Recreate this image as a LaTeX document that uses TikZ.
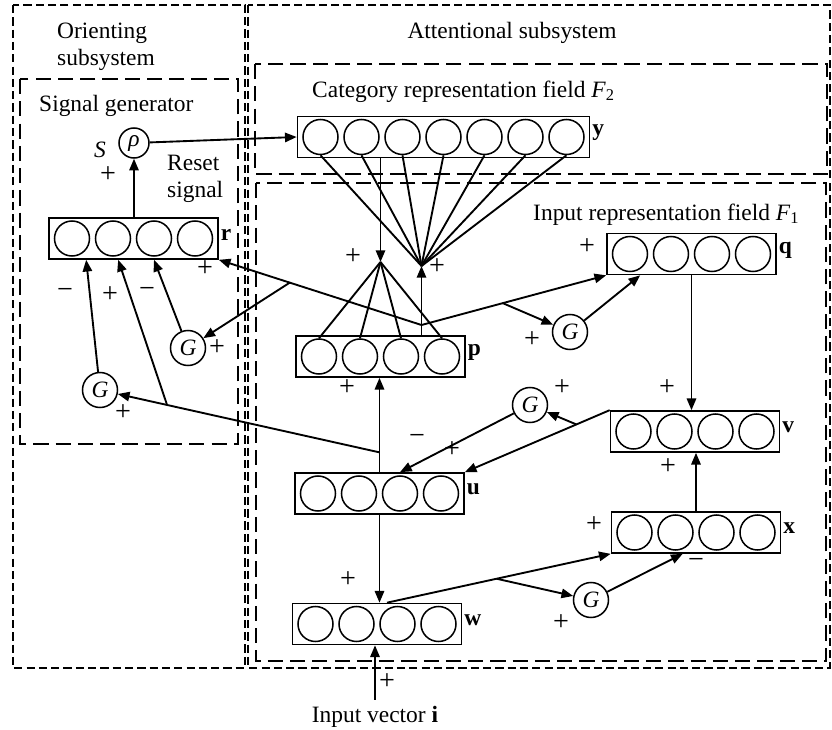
\documentclass[tikz,border=0pt]{standalone}
\usepackage{fontspec}
\setmainfont{Liberation Serif}
\usetikzlibrary{arrows.meta,calc}

\tikzset{
  wire/.style={line width=1.6pt},
  arr/.style={wire, -{Triangle[length=10pt,width=8pt]}},
  layerbox/.style={draw, line width=1.4pt, minimum height=1.23cm, inner sep=0pt},
  unit/.style={draw, circle, line width=1.3pt, minimum size=1.05cm, inner sep=0pt},
  gate/.style={draw, circle, line width=1.3pt, minimum size=1.05cm, inner sep=0pt, font=\itshape},
  veclabel/.style={anchor=west, font=\bfseries, inner sep=1.5pt},
  txt/.style={inner sep=0pt},
  sgn/.style={inner sep=0pt, font=\fontsize{24}{28}\selectfont},
  outerbox/.style={line width=1.3pt, dash pattern=on 7pt off 3.5pt},
  innerbox/.style={line width=1.6pt, dash pattern=on 13pt off 6pt},
}

% a field of units: name, number of units, centre x, centre y, label
\newcommand{\layer}[5]{%
  \node[layerbox, minimum width={(#2*41+5)*0.03cm}] (#1) at (#3,#4) {};
  \foreach \k in {1,...,#2}
    \node[unit] (#1-\k) at ({#3+(\k-(#2+1)/2)*41},#4) {};
  \node[veclabel] (#1-lab) at ($(#1.east)+(0,-4)$) {#5};
}

\begin{document}
\fontsize{20}{23}\selectfont
\begin{tikzpicture}[x=0.03cm, y=-0.03cm]
  \useasboundingbox (0,0) rectangle (832,730);
  % subsystems and fields
  \draw[outerbox] (13,5) rectangle (245,668);
  \draw[outerbox] (248,5) rectangle (830,668);
  \draw[innerbox] (20,79) rectangle (238,444);
  \draw[innerbox] (255,64) rectangle (827,174);
  \draw[innerbox] (256,183) rectangle (826,661);

  \node[txt, anchor=north west, align=left] (orient) at (57,23) {Orienting\\subsystem};
  \node[txt, anchor=base] (attent) at (512,39) {Attentional subsystem};
  \node[txt, anchor=base west] (siggen) at (39,112) {Signal generator};
  \node[txt, anchor=base west] (f2lab) at (312,97) {Category representation field \textit{F}\textsubscript{2}};
  \node[txt, anchor=base west] (f1lab) at (533,220) {Input representation field \textit{F}\textsubscript{1}};
  \node[txt, anchor=north west, align=left] (reset) at (167,155) {Reset\\signal};
  \node[txt, anchor=base] (slab) at (100,157) {\textit{S}};
  \node[txt, anchor=base, inner ysep=5pt] (inlab) at (375,722) {Input vector \textbf{i}};

  % fields of units
  \layer{y}{7}{443.5}{137}{y}
  \layer{r}{4}{133.5}{238.5}{r}
  \layer{p}{4}{380.5}{356.5}{p}
  \layer{q}{4}{691.5}{254}{q}
  \layer{v}{4}{695}{431.5}{v}
  \layer{u}{4}{379.5}{493.5}{u}
  \layer{x}{4}{696}{532.5}{x}
  \layer{w}{4}{377}{624}{w}

  % gain controls
  \node[gate, minimum size=0.9cm] (rho) at (134,143) {ρ};
  \node[gate] (g1) at (188,348) {G};
  \node[gate] (g2) at (100,390) {G};
  \node[gate] (g3) at (570,332) {G};
  \node[gate] (g4) at (530,405) {G};
  \node[gate] (g5) at (591,600) {G};

  % F2 <-> F1
  \coordinate (yp) at (380.5,262);
  \coordinate (py) at (421.5,266);
  \draw[arr] (y.south -| yp) -- (yp);
  \foreach \k in {1,...,4} \draw[wire] (yp) -- (p-\k.north);
  \draw[arr] (p.north -| py) -- (py);
  \foreach \k in {1,...,7} \draw[wire] (py) -- (y-\k.south);

  % p to r and q
  \coordinate (pj) at (421.5,325);
  \draw[arr] (pj) -- (r.south east);
  \draw[arr] (pj) -- (q.south west);
  \coordinate (b1) at ($(pj)!0.65!(r.south east)$);
  \draw[arr] (b1) -- (g1);
  \draw[arr] (g1) -- (r-3 |- r.south);
  \coordinate (b3) at ($(pj)!0.44!(q.south west)$);
  \draw[arr] (b3) -- (g3);
  \draw[arr] (g3) -- ($(q.south west)+(34,0)$);

  % u to p and r
  \draw[arr] (u.north) -- (u.north |- p.south);
  \coordinate (uj) at ($(u.north)!0.21!(u.north |- p.south)$);
  \draw[arr] (uj) -- (g2);
  \coordinate (b2) at ($(uj)!0.76!(g2)$);
  \draw[arr] (b2) -- ($(r.south west)+(70,0)$);
  \draw[arr] (g2) -- ($(r.south west)+(38,0)$);

  % q, v and u
  \draw[arr] (q.south) -- (q.south |- v.north);
  \draw[arr] (v.north west) -- (u.north east);
  \coordinate (b4) at ($(v.north west)!0.23!(u.north east)$);
  \draw[arr] (b4) -- (g4);
  \draw[arr] (g4) -- (u-3 |- u.north);

  % w and x
  \draw[arr] (u.south) -- (u.south |- w.north);
  \draw[arr] (inlab.north) -- (inlab.north |- w.south);
  \coordinate (wout) at ($(w.north)+(10,0)$);
  \draw[arr] (wout) -- (x.south west);
  \coordinate (b5) at ($(wout)!0.49!(x.south west)$);
  \draw[arr] (b5) -- (g5);
  \draw[arr] (g5) -- ($(x.south west)+(72,0)$);
  \draw[arr] (x.north) -- (x.north |- v.south);

  % reset signal
  \draw[arr] (rho |- r.north) -- (rho);
  \draw[arr] (rho) -- (y.west);

  % signs
  \foreach \sx/\sy [count=\i] in {108/175, 205/269, 217/348, 110/295, 123/413,
      353/257, 437/267, 587/247, 532/340, 347/388, 562/388, 667/388,
      668/467, 452/450, 348/580, 594/525, 561/623, 387/682}
    \node[sgn] (plus\i) at (\sx,\sy) {+};
  \foreach \sx/\sy [count=\i] in {65/293, 147/292, 417/439, 696/563}
    \node[sgn] (minus\i) at (\sx,\sy) {−};
\end{tikzpicture}
\end{document}
